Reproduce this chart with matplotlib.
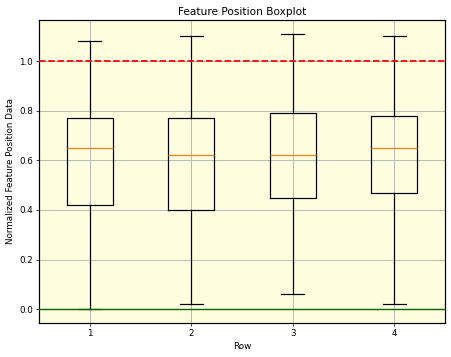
import matplotlib
matplotlib.use("Agg")
import matplotlib.pyplot as plt

rows = [1, 2, 3, 4]
whislo = [0.00, 0.02, 0.06, 0.02]
q1 = [0.42, 0.40, 0.45, 0.47]
med = [0.65, 0.62, 0.62, 0.65]
q3 = [0.77, 0.77, 0.79, 0.78]
whishi = [1.08, 1.10, 1.11, 1.10]

stats = [dict(whislo=a, q1=b, med=c, q3=d, whishi=e, fliers=[], label=str(r))
         for r, a, b, c, d, e in zip(rows, whislo, q1, med, q3, whishi)]

DPI = 63
fig = plt.figure(figsize=(451 / DPI, 357 / DPI), dpi=DPI)
ax = fig.add_axes([39 / 451, 34 / 357, 406 / 451, 303 / 357])
ax.set_facecolor('lightyellow')
ax.bxp(stats, positions=rows,
       boxprops=dict(linewidth=1.4), whiskerprops=dict(linewidth=1.4),
       capprops=dict(linewidth=1.4), medianprops=dict(linewidth=1.4))
ax.axhline(1.0, color='red', linestyle='--', linewidth=2.0, zorder=3)
ax.axhline(0.0, color='darkgreen', linewidth=1.6, zorder=3)
ax.grid(True, color='#bbbbbb', linewidth=1.2)
ax.set_axisbelow(True)
ax.set_title('Feature Position Boxplot')
ax.set_xlabel('Row')
ax.set_ylabel('Normalized Feature Position Data')
for s in ax.spines.values():
    s.set_linewidth(1.4)
fig.savefig('out.png', dpi=DPI)
